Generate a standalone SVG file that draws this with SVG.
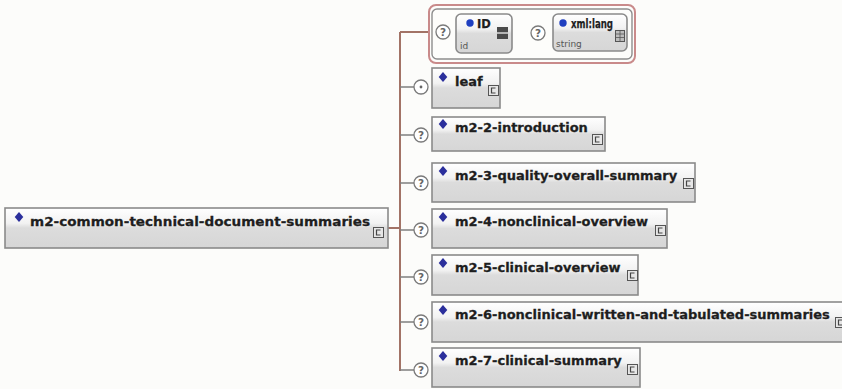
<svg xmlns="http://www.w3.org/2000/svg" width="842" height="389" viewBox="0 0 842 389">
  <defs>
    <linearGradient id="boxFill" x1="0" y1="0" x2="0" y2="1">
      <stop offset="0" stop-color="#ffffff"/>
      <stop offset="0.38" stop-color="#f2f2f2"/>
      <stop offset="0.5" stop-color="#dcdcdc"/>
      <stop offset="1" stop-color="#d6d6d6"/>
    </linearGradient>
    <!-- expand icon shown at the lower right of an element box -->
    <g id="expand">
      <rect x="0.5" y="0.5" width="10" height="10" fill="#e6e6e6" stroke="#555"/>
      <path d="M7.5 3 H3.5 V8 H7.5" fill="none" stroke="#444" stroke-width="1.2"/>
    </g>
    <path id="diamond" d="M0 -5 L4.3 0 L0 5 L-4.3 0 Z" fill="#2b2f9c"/>
    <g id="optional">
      <circle r="7" fill="#fff" stroke="#7a7a7a" stroke-width="1.3"/>
      <text y="3.8" text-anchor="middle" class="q">?</text>
    </g>
  </defs>
  <style>
    .box { fill: url(#boxFill); stroke: #8a8a8a; stroke-width: 1.6; }
    .name { font-family: "DejaVu Sans", Verdana, sans-serif; font-weight: bold; font-size: 13px; fill: #1e1e1e; stroke: #1e1e1e; stroke-width: 0.3; }
    .aname { font-family: "DejaVu Sans", Verdana, sans-serif; font-weight: bold; font-size: 11.5px; fill: #1e1e1e; stroke: #1e1e1e; stroke-width: 0.25; }
    .type { font-family: "DejaVu Sans", Verdana, sans-serif; font-size: 9px; fill: #555; }
    .q { font-family: "DejaVu Sans", sans-serif; font-weight: bold; font-size: 10.5px; fill: #666; }
    .trunk { stroke: #a27366; stroke-width: 2; fill: none; }
    .branch { stroke: #7f7f7f; stroke-width: 1.6; fill: none; }
  </style>

  <rect width="842" height="389" fill="#fcfcfa"/>

  <!-- connectors -->
  <g id="connectors">
    <path class="trunk" d="M388 228 H400 M400 32 V371 M400 32 H432"/>
    <path class="branch" d="M400 87 H414 M400 135 H414 M400 183 H414 M400 230 H414 M400 277 H414 M400 322 H414 M400 370 H414"/>
  </g>

  <!-- root element -->
  <g id="m2-common-technical-document-summaries">
    <rect class="box" x="5" y="208" width="383" height="40"/>
    <use href="#diamond" x="19" y="217"/>
    <text class="name" x="30" y="226" textLength="340" lengthAdjust="spacingAndGlyphs">m2-common-technical-document-summaries</text>
    <use href="#expand" x="373" y="227"/>
  </g>

  <!-- attribute group -->
  <g id="attributes">
    <rect x="429" y="5" width="206" height="58" rx="7" fill="#fdfdfb" stroke="#c98a8a" stroke-width="2"/>
    <rect x="432" y="9" width="200" height="50" rx="5" fill="none" stroke="#8d8d8d" stroke-width="1.4"/>
    <use href="#optional" x="443" y="32"/>
    <g id="attr-ID">
      <rect class="box" x="456" y="14" width="56" height="39" rx="5"/>
      <circle cx="470" cy="23" r="3.7" fill="#1f3fc0"/>
      <text class="aname" x="477" y="28">ID</text>
      <text class="type" x="460" y="49">id</text>
      <rect x="497" y="27" width="11" height="12" fill="#4a4a4a"/>
      <path d="M497 33 H508" stroke="#d8d8d8" stroke-width="1.5"/>
    </g>
    <use href="#optional" x="538" y="33"/>
    <g id="attr-xml-lang">
      <rect class="box" x="553" y="14" width="74" height="37" rx="5"/>
      <circle cx="563" cy="23" r="3.7" fill="#1f3fc0"/>
      <text class="aname" x="571" y="28" textLength="42" lengthAdjust="spacingAndGlyphs">xml:lang</text>
      <text class="type" x="556" y="47">string</text>
      <rect x="615.5" y="30.5" width="9" height="11" fill="#bdbdbd" stroke="#555"/>
      <path d="M616 34 H624 M616 37.5 H624 M620 31 V41" stroke="#555" stroke-width="0.8"/>
    </g>
  </g>

  <!-- child elements -->
  <g id="leaf">
    <circle cx="421" cy="87" r="7" fill="#fff" stroke="#7a7a7a" stroke-width="1.3"/>
    <circle cx="421" cy="87" r="1.4" fill="#666"/>
    <rect class="box" x="432" y="68" width="68" height="40"/>
    <use href="#diamond" x="443" y="77"/>
    <text class="name" x="455" y="86">leaf</text>
    <use href="#expand" x="488" y="85"/>
  </g>

  <g id="m2-2-introduction">
    <use href="#optional" x="421" y="135"/>
    <rect class="box" x="432" y="117" width="173" height="34"/>
    <use href="#diamond" x="443" y="124"/>
    <text class="name" x="455" y="132">m2-2-introduction</text>
    <use href="#expand" x="592" y="134"/>
  </g>

  <g id="m2-3-quality-overall-summary">
    <use href="#optional" x="421" y="183"/>
    <rect class="box" x="432" y="163" width="263" height="39"/>
    <use href="#diamond" x="443" y="171"/>
    <text class="name" x="455" y="180">m2-3-quality-overall-summary</text>
    <use href="#expand" x="683" y="178"/>
  </g>

  <g id="m2-4-nonclinical-overview">
    <use href="#optional" x="421" y="230"/>
    <rect class="box" x="432" y="209" width="235" height="39"/>
    <use href="#diamond" x="443" y="217"/>
    <text class="name" x="455" y="226">m2-4-nonclinical-overview</text>
    <use href="#expand" x="655" y="225"/>
  </g>

  <g id="m2-5-clinical-overview">
    <use href="#optional" x="421" y="277"/>
    <rect class="box" x="432" y="255" width="206" height="40"/>
    <use href="#diamond" x="443" y="263"/>
    <text class="name" x="455" y="272">m2-5-clinical-overview</text>
    <use href="#expand" x="627" y="270"/>
  </g>

  <g id="m2-6-nonclinical-written-and-tabulated-summaries">
    <use href="#optional" x="421" y="322"/>
    <rect class="box" x="432" y="302" width="420" height="40"/>
    <use href="#diamond" x="443" y="310"/>
    <text class="name" x="455" y="319">m2-6-nonclinical-written-and-tabulated-summaries</text>
    <use href="#expand" x="835" y="317"/>
  </g>

  <g id="m2-7-clinical-summary">
    <use href="#optional" x="421" y="370"/>
    <rect class="box" x="432" y="348" width="208" height="39"/>
    <use href="#diamond" x="443" y="356"/>
    <text class="name" x="455" y="365">m2-7-clinical-summary</text>
    <use href="#expand" x="627" y="364"/>
  </g>
</svg>
